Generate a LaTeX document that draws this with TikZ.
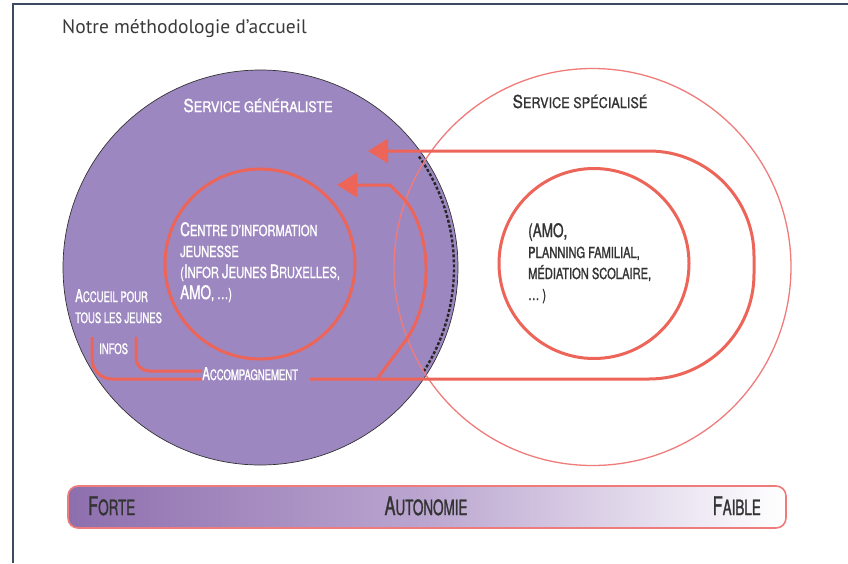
\documentclass[tikz,border=0pt]{standalone}
\usepackage{fontspec}
\usepackage{graphicx}
\setmainfont{PT Sans}
% condensed, slightly heavy capitals for the hand-lettered labels
\newfontfamily\headfam[FakeStretch=0.87,FakeBold=1.2]{TeX Gyre Heros}
\newfontfamily\bodyfam[FakeStretch=0.73,FakeBold=1.2]{TeX Gyre Heros}
\newfontfamily\smallfam[FakeStretch=0.66,FakeBold=1.2]{TeX Gyre Heros}
\newfontfamily\barfam[FakeStretch=0.64,FakeBold=1.2]{TeX Gyre Heros}
\newcommand\initcap[1]{\scalebox{1.22}{#1}}
\usetikzlibrary{arrows.meta}
\definecolor{frameblue}{HTML}{3E4A62}
\definecolor{titlegray}{HTML}{3A3A3A}
\definecolor{genpurple}{HTML}{9D87C0}
\definecolor{coral}{HTML}{EC6558}
\definecolor{softcoral}{HTML}{EF7B7B}
\definecolor{inkgray}{HTML}{333333}
\definecolor{barpurple}{HTML}{8E6FAE}
\definecolor{barmid}{HTML}{BBA6D0}
\tikzset{
  thickline/.style={coral, line width=3pt},
  bigtip/.style={-{Triangle[length=20pt,width=24pt]}},
  labelwhite/.style={text=white, inner sep=0pt},
  labeldark/.style={text=inkgray, inner sep=0pt},
  headfont/.style={font=\headfam\fontsize{14.6}{21}\selectfont},
  bodyfont/.style={font=\bodyfam\fontsize{15.2}{21}\selectfont},
  smallfont/.style={font=\smallfam\fontsize{14.4}{21}\selectfont},
  barfont/.style={font=\barfam\fontsize{21}{22}\selectfont},
}
\begin{document}
\begin{tikzpicture}[x=1pt,y=-1pt]
\useasboundingbox (0,0) rectangle (848,563);

% frame
\draw[frameblue, line width=1.6pt] (13,563) -- (13,4) -- (848,4);
\node[anchor=base west, inner sep=0pt, text=titlegray, font=\fontsize{19.5}{22}\selectfont] (title) at (62,33) {Notre méthodologie d’accueil};

% generalist service disc
\coordinate (gc) at (260.5,267.5);
\fill[genpurple] (gc) circle[radius=197.5];
\draw[inkgray, line width=0.7pt] (gc) circle[radius=197.5];
\draw[black!85, line width=2.4pt, dash pattern=on 3pt off 2pt]
  (gc) ++(-35:193.5) arc[start angle=-35, end angle=33, radius=193.5];

% specialised service circle
\coordinate (sc) at (592.5,267);
\draw[softcoral, line width=1.3pt] (sc) circle[radius=198.5];

% inner circles
\node[draw=coral, line width=3pt, circle, minimum size=190pt, inner sep=0pt] (cij) at (260,264) {};
\node[draw=coral, line width=3pt, circle, minimum size=190pt, inner sep=0pt] (spe) at (594,263.5) {};

% headings
\node[headfont, labelwhite, anchor=base] (genlabel) at (258,112) {\initcap{S}ERVICE GÉNÉRALISTE};
\node[headfont, labeldark, anchor=base] (spelabel) at (580,108) {\initcap{S}ERVICE SPÉCIALISÉ};

% circle contents (anchored on the baseline of the last line)
\node[bodyfont, labelwhite, anchor=base west, align=left] (cijtext) at (180,299)
  {\initcap{C}ENTRE D’INFORMATION\\JEUNESSE\\(\initcap{I}NFOR \initcap{J}EUNES \initcap{B}RUXELLES,\\\initcap{AMO}, \dots)};
\node[bodyfont, labeldark, anchor=base west, align=left] (spetext) at (528,300)
  {\initcap{(AMO,}\\PLANNING FAMILIAL,\\MÉDIATION SCOLAIRE,\\\dots\ )};

% left labels
\node[smallfont, labelwhite, anchor=base west, align=left] (accueil) at (75,323) {\initcap{A}CCUEIL POUR\\TOUS LES JEUNES};
\node[smallfont, labelwhite, anchor=base west] (infos) at (99,354) {INFOS};
\node[smallfont, labelwhite, anchor=base west] (accomp) at (202,380) {\initcap{A}CCOMPAGNEMENT};

% brackets
\coordinate (b1top) at (92,337);
\coordinate (b2top) at (136,337);
\draw[thickline, rounded corners=20pt] (b1top) -- (92,379) -- (accomp.west |- 0,379);
\draw[thickline, rounded corners=13pt] (b2top) -- (136,371) -- (accomp.west |- 0,371);

% outer loop back into the generalist service
\coordinate (loopstart) at (310,379);
\coordinate (looptip) at (368,151);
\draw[thickline, bigtip, rounded corners=105pt]
  (loopstart) -- (754,379) -- (754,151) -- (looptip);

% inner return towards the information centre
\coordinate (retstart) at (377,379);
\coordinate (rettip) at (337,185);
\draw[thickline, bigtip]
  (retstart) -- (406,340) .. controls (434,300) and (432,232) .. (404,199) -- (390,185) -- (rettip);

% autonomy bar
\shade[left color=barpurple, right color=white, middle color=barmid, rounded corners=10pt]
  (68,486) rectangle (786,528);
\draw[softcoral, line width=1.6pt, rounded corners=10pt] (68,486) rectangle (786,528);
\node[barfont, labeldark, anchor=base west] (forte) at (88,515) {\initcap{F}ORTE};
\node[barfont, labeldark, anchor=base] (autonomie) at (426,515) {\initcap{A}UTONOMIE};
\node[barfont, labeldark, anchor=base east] (faible) at (761,515) {\initcap{F}AIBLE};
\end{tikzpicture}
\end{document}
